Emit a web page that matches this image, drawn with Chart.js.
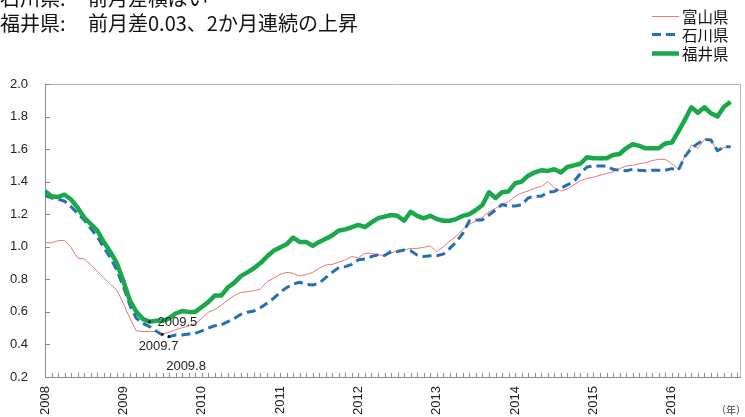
<!DOCTYPE html>
<html lang="ja">
<head>
<meta charset="utf-8">
<script src="https://cdn.jsdelivr.net/npm/chart.js@4"></script>
<style>
html,body{margin:0;padding:0;background:#fff;}
#wrap{position:relative;width:745px;height:417px;overflow:hidden;}
#chart{position:absolute;left:0;top:0;}
.head{position:absolute;left:0;white-space:nowrap;font-family:"Noto Sans CJK JP","Noto Sans",sans-serif;font-size:20px;line-height:20px;color:#111;}
.head .k{display:inline-block;width:88px;}
</style>
</head>
<body>
<div id="wrap">
<canvas id="chart" width="745" height="417"></canvas>
<div class="head" style="top:-12px"><span class="k">石川県:</span>前月差横ばい</div>
<div class="head" style="top:13px"><span class="k">福井県:</span>前月差0.03、2か月連続の上昇</div>
</div>
<script>
// Monthly series, January 2008 to October 2016
const seriesNames = ['富山県', '石川県', '福井県'];
const yearLabels = ['2008', '2009', '2010', '2011', '2012', '2013', '2014', '2015', '2016'];
const yTicks = [0.2, 0.4, 0.6, 0.8, 1.0, 1.2, 1.4, 1.6, 1.8, 2.0];

const toyama = [
  1.025, 1.025, 1.037, 1.04, 0.995, 0.93, 0.925, 0.89, 0.85, 0.81, 0.77, 0.735,
  0.653, 0.56, 0.483, 0.48, 0.48, 0.48, 0.462, 0.475, 0.49, 0.503, 0.513, 0.526,
  0.56, 0.597, 0.615, 0.64, 0.673, 0.70, 0.72, 0.724, 0.73, 0.74, 0.785, 0.806,
  0.83, 0.843, 0.837, 0.82, 0.83, 0.843, 0.868, 0.888, 0.892, 0.905, 0.92, 0.94,
  0.933, 0.96, 0.96, 0.95, 0.946, 0.96, 0.98, 0.98, 0.99, 0.99, 0.997, 1.005,
  0.97, 1.00, 1.035, 1.066, 1.107, 1.138, 1.16, 1.18, 1.216, 1.236, 1.257, 1.277,
  1.31, 1.33, 1.343, 1.36, 1.37, 1.40, 1.363, 1.343, 1.355, 1.38, 1.406, 1.42,
  1.427, 1.44, 1.45, 1.46, 1.48, 1.496, 1.50, 1.51, 1.517, 1.53, 1.537, 1.537,
  1.51, 1.476, 1.554, 1.625, 1.605, 1.66, 1.66, 1.584, 1.61, 1.615
];
const ishikawa = [
  1.314, 1.30, 1.293, 1.28, 1.246, 1.205, 1.165, 1.113, 1.062, 0.995, 0.933, 0.857,
  0.755, 0.642, 0.56, 0.53, 0.51, 0.483, 0.458, 0.448, 0.458, 0.458, 0.464, 0.468,
  0.483, 0.50, 0.515, 0.52, 0.54, 0.56, 0.585, 0.598, 0.606, 0.626, 0.653, 0.683,
  0.72, 0.749, 0.77, 0.782, 0.77, 0.765, 0.776, 0.81, 0.843, 0.872, 0.878, 0.892,
  0.92, 0.925, 0.94, 0.95, 0.946, 0.97, 0.97, 0.98, 0.975, 0.95, 0.94, 0.945,
  0.945, 0.955, 0.99, 1.03, 1.083, 1.16, 1.165, 1.165, 1.195, 1.226, 1.26, 1.25,
  1.25, 1.257, 1.30, 1.31, 1.31, 1.335, 1.34, 1.36, 1.38, 1.40, 1.45, 1.49,
  1.496, 1.496, 1.496, 1.476, 1.47, 1.467, 1.476, 1.47, 1.467, 1.47, 1.47, 1.47,
  1.48, 1.47, 1.554, 1.605, 1.635, 1.66, 1.656, 1.59, 1.615, 1.615
];
const fukui = [
  1.343, 1.31, 1.306, 1.32, 1.29, 1.24, 1.18, 1.14, 1.10, 1.03, 0.97, 0.90,
  0.79, 0.67, 0.60, 0.556, 0.54, 0.546, 0.545, 0.56, 0.59, 0.605, 0.60, 0.60,
  0.63, 0.66, 0.70, 0.70, 0.75, 0.78, 0.82, 0.843, 0.868, 0.90, 0.94, 0.975,
  0.995, 1.015, 1.056, 1.03, 1.03, 1.005, 1.03, 1.05, 1.07, 1.10, 1.107, 1.12,
  1.134, 1.12, 1.15, 1.175, 1.185, 1.195, 1.19, 1.16, 1.215, 1.19, 1.175, 1.19,
  1.17, 1.16, 1.16, 1.17, 1.19, 1.20, 1.226, 1.257, 1.335, 1.30, 1.335, 1.34,
  1.39, 1.40, 1.437, 1.457, 1.47, 1.466, 1.476, 1.457, 1.49, 1.50, 1.51, 1.55,
  1.544, 1.544, 1.544, 1.564, 1.57, 1.605, 1.63, 1.62, 1.605, 1.605, 1.605, 1.635,
  1.64, 1.707, 1.78, 1.857, 1.824, 1.857, 1.82, 1.80, 1.86, 1.89
];

// Turning points that carry a date label: [dataset index, month index, text]
const callouts = [
  [2, 16, '2009.5'],
  [0, 18, '2009.7'],
  [1, 19, '2009.8']
];

const toPoints = arr => arr.map((v, i) => ({ x: i, y: v }));
const LAST_MONTH = 106.6;
const LATIN = '"Liberation Sans", Arial, sans-serif';
const CJK = '"Noto Sans CJK JP", "Noto Sans", sans-serif';

const frame = {
  id: 'frame',
  beforeDatasetsDraw(chart) {
    const { ctx, chartArea: a, scales: { x, y } } = chart;
    ctx.save();
    ctx.lineWidth = 1;
    ctx.strokeStyle = '#b4b4b4';
    ctx.beginPath();
    ctx.moveTo(a.left, a.top + 0.5); ctx.lineTo(a.right - 0.5, a.top + 0.5); ctx.lineTo(a.right - 0.5, a.bottom);
    ctx.stroke();
    ctx.strokeStyle = '#8c8c8c';
    ctx.beginPath();
    ctx.moveTo(a.left + 0.5, a.top); ctx.lineTo(a.left + 0.5, a.bottom + 0.5); ctx.lineTo(a.right, a.bottom + 0.5);
    for (let m = 0; m <= Math.floor(LAST_MONTH); m++) {
      const px = Math.round(x.getPixelForValue(m)) + 0.5;
      ctx.moveTo(px, a.bottom); ctx.lineTo(px, a.bottom - 4);
    }
    yTicks.forEach(v => {
      const py = Math.round(y.getPixelForValue(v)) + 0.5;
      ctx.moveTo(a.left, py); ctx.lineTo(a.left + 5, py);
    });
    ctx.stroke();
    ctx.restore();
  },
  afterDatasetsDraw(chart) {
    const { ctx } = chart;
    const offsets = { '2009.5': [8, 1, 'left'], '2009.7': [-4, 12, 'center'], '2009.8': [17, 30, 'center'] };
    ctx.save();
    ctx.font = '13px ' + LATIN;
    ctx.textBaseline = 'middle';
    callouts.forEach(([ds, idx, text]) => {
      const p = chart.getDatasetMeta(ds).data[idx];
      ctx.fillStyle = '#111';
      ctx.beginPath(); ctx.arc(p.x, p.y, 1.4, 0, Math.PI * 2); ctx.fill();
      const [dx, dy, align] = offsets[text];
      ctx.textAlign = align;
      ctx.fillStyle = '#222';
      ctx.fillText(text, p.x + dx, p.y + dy);
    });
    ctx.restore();
  },
  afterDraw(chart) {
    const { ctx } = chart;
    ctx.save();
    // legend, top right
    const rows = [16, 34, 53];
    chart.data.datasets.forEach((ds, i) => {
      const yy = rows[i];
      ctx.strokeStyle = ds.borderColor;
      ctx.lineWidth = ds.borderWidth;
      ctx.setLineDash(ds.borderDash || []);
      ctx.beginPath(); ctx.moveTo(652, yy + 0.5); ctx.lineTo(679, yy + 0.5); ctx.stroke();
      ctx.setLineDash([]);
      ctx.fillStyle = '#111';
      ctx.font = '15.5px ' + CJK;
      ctx.textAlign = 'left';
      ctx.textBaseline = 'middle';
      ctx.fillText(ds.label, 682, yy + 1);
    });
    // unit note under the x axis
    ctx.font = '10px ' + CJK;
    ctx.fillStyle = '#444';
    ctx.textAlign = 'left';
    ctx.fillText('（年）', 716, 410);
    ctx.restore();
  }
};

new Chart(document.getElementById('chart'), {
  type: 'line',
  data: {
    datasets: [
      { label: seriesNames[0], data: toPoints(toyama), borderColor: '#e27a78', borderWidth: 1, order: 3 },
      { label: seriesNames[1], data: toPoints(ishikawa), borderColor: '#2470b6', borderWidth: 3, borderDash: [9, 5], order: 2 },
      { label: seriesNames[2], data: toPoints(fukui), borderColor: '#1aa84b', borderWidth: 4.5, order: 1 }
    ]
  },
  options: {
    responsive: false,
    animation: false,
    layout: { padding: { top: 84, right: 4, left: 0, bottom: 0 } },
    elements: { point: { radius: 0 }, line: { tension: 0, borderCapStyle: 'butt', borderJoinStyle: 'round' } },
    plugins: { legend: { display: false }, tooltip: { enabled: false } },
    scales: {
      x: {
        type: 'linear',
        min: 0,
        max: LAST_MONTH,
        grid: { display: false, drawTicks: false },
        border: { display: false },
        afterFit: s => { s.height = 40; },
        afterBuildTicks: s => { s.ticks = yearLabels.map((_, i) => ({ value: i * 12 })); },
        ticks: {
          autoSkip: false,
          minRotation: 90,
          maxRotation: 90,
          padding: 9,
          color: '#222',
          font: { family: LATIN, size: 13 },
          callback: v => yearLabels[Math.round(v / 12)]
        }
      },
      y: {
        min: 0.2,
        max: 2.0,
        grid: { display: false, drawTicks: false },
        border: { display: false },
        afterFit: s => { s.width = 45; },
        afterBuildTicks: s => { s.ticks = yTicks.map(v => ({ value: v })); },
        ticks: {
          padding: 17,
          color: '#222',
          font: { family: LATIN, size: 13 },
          callback: v => v.toFixed(1)
        }
      }
    }
  },
  plugins: [frame]
});
</script>
</body>
</html>
